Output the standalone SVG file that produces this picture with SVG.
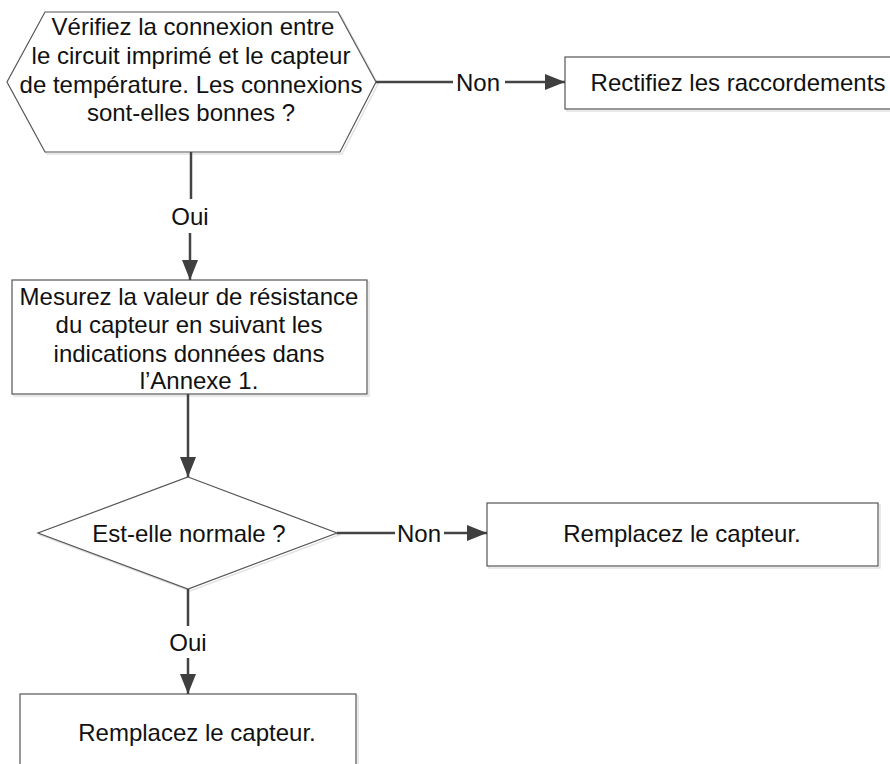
<svg xmlns="http://www.w3.org/2000/svg" width="890" height="764" viewBox="0 0 890 764">
  <defs>
    <marker id="arrow" viewBox="0 0 20 16" refX="20" refY="8" markerWidth="20" markerHeight="16" markerUnits="userSpaceOnUse" orient="auto">
      <path d="M0,0 L20,8 L0,16 Z" fill="#3f3f3f"/>
    </marker>
  </defs>
  <style>
    .node { fill: #ffffff; stroke: #555555; stroke-width: 1.2; }
    .shadow { fill: none; stroke: #e2e2e2; stroke-width: 1.5; }
    .edge { fill: none; stroke: #444444; stroke-width: 2.5; }
    text { font-family: "Liberation Sans", Arial, sans-serif; font-size: 24px; fill: #111111; text-anchor: middle; }
    .lbl { font-size: 24px; }
  </style>
  <rect width="890" height="764" fill="#ffffff"/>

  <g id="check-connection">
    <polygon class="shadow" points="47,14 340,14 378,84 342,154 47,154 9,84"/>
    <polygon class="node" points="45,12 338,12 376,82 340,152 45,152 7,82"/>
    <text x="193" y="35">Vérifiez la connexion entre</text>
    <text x="191" y="64">le circuit imprimé et le capteur</text>
    <text x="191" y="93">de température. Les connexions</text>
    <text x="191" y="121">sont-elles bonnes ?</text>
  </g>

  <g id="fix-wiring">
    <rect class="shadow" x="567" y="59" width="330" height="52"/>
    <rect class="node" x="565" y="57" width="330" height="52"/>
    <text x="738" y="91">Rectifiez les raccordements</text>
  </g>

  <g id="measure-resistance">
    <rect class="shadow" x="14" y="282" width="355" height="114"/>
    <rect class="node" x="12" y="280" width="355" height="114"/>
    <text x="189" y="305">Mesurez la valeur de résistance</text>
    <text x="189" y="333">du capteur en suivant les</text>
    <text x="189" y="362">indications données dans</text>
    <text x="199" y="389">l’Annexe 1.</text>
  </g>

  <g id="is-normal">
    <polygon class="shadow" points="190,480 339,535 190,591 40,535"/>
    <polygon class="node" points="188,477 337,533 188,589 38,533"/>
    <text x="189" y="542">Est-elle normale ?</text>
  </g>

  <g id="replace-sensor-right">
    <rect class="shadow" x="489" y="505" width="391" height="63"/>
    <rect class="node" x="487" y="503" width="391" height="63"/>
    <text x="682" y="542">Remplacez le capteur.</text>
  </g>

  <g id="replace-sensor-bottom">
    <rect class="shadow" x="22" y="696" width="336" height="80"/>
    <rect class="node" x="20" y="694" width="336" height="80"/>
    <text x="197" y="741">Remplacez le capteur.</text>
  </g>

  <g id="connectors">
    <!-- check-connection: Non -->
    <path class="edge" d="M376,82 H453"/>
    <path class="edge" d="M505,82 H565" marker-end="url(#arrow)"/>
    <text class="lbl" x="478" y="91">Non</text>
    <!-- check-connection: Oui -->
    <path class="edge" d="M191,152 V199"/>
    <path class="edge" d="M190,233 V280" marker-end="url(#arrow)"/>
    <text class="lbl" x="190" y="225">Oui</text>
    <!-- measure -> is-normal -->
    <path class="edge" d="M188,394 V477" marker-end="url(#arrow)"/>
    <!-- is-normal: Non -->
    <path class="edge" d="M337,533 H395"/>
    <path class="edge" d="M444,533 H487" marker-end="url(#arrow)"/>
    <text class="lbl" x="419" y="542">Non</text>
    <!-- is-normal: Oui -->
    <path class="edge" d="M188,589 V626"/>
    <path class="edge" d="M188,658 V694" marker-end="url(#arrow)"/>
    <text class="lbl" x="188" y="651">Oui</text>
  </g>
</svg>
